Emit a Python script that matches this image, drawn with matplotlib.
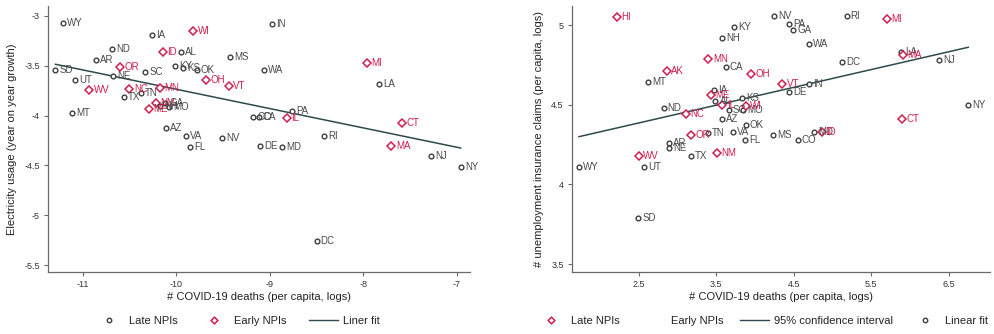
import numpy as np
import matplotlib
matplotlib.use("Agg")
import matplotlib.pyplot as plt
from matplotlib.lines import Line2D

plt.rcParams["font.family"] = ["Liberation Sans", "DejaVu Sans"]
plt.rcParams["axes.unicode_minus"] = False

# ---- Panel A: electricity usage vs COVID-19 deaths ----
elec_states = ["WY", "IA", "WI", "ND", "ID", "AL", "MS", "AR", "OR", "KY", "KS", "OK",
               "SD", "SC", "NE", "UT", "OH", "VT", "WV", "NC", "MN", "TX", "TN", "MT",
               "ME", "NM", "GA", "MO", "NH", "AZ", "VA", "NV", "FL", "IN", "WA", "MI",
               "LA", "PA", "CO", "CA", "IL", "CT", "RI", "DE", "MD", "MA", "NJ", "NY", "DC"]
elec_deaths = [-11.21, -10.26, -9.82, -10.69, -10.14, -9.95, -9.42, -10.86, -10.60, -10.01,
               -9.93, -9.78, -11.29, -10.33, -10.67, -11.08, -9.68, -9.44, -10.93, -10.50,
               -10.17, -10.56, -10.38, -11.11, -10.29, -10.22, -10.12, -10.08, -10.17,
               -10.11, -9.90, -9.51, -9.85, -8.98, -9.06, -7.96, -7.83, -8.76, -9.18,
               -9.12, -8.82, -7.59, -8.42, -9.10, -8.87, -7.70, -7.28, -6.96, -8.50]
elec_growth = [-3.07, -3.19, -3.15, -3.33, -3.36, -3.36, -3.41, -3.44, -3.51, -3.50,
               -3.52, -3.54, -3.54, -3.56, -3.60, -3.64, -3.64, -3.70, -3.74, -3.73,
               -3.72, -3.81, -3.77, -3.97, -3.93, -3.87, -3.87, -3.91, -3.90,
               -4.12, -4.20, -4.22, -4.32, -3.08, -3.54, -3.47, -3.68, -3.95, -4.01,
               -4.01, -4.02, -4.07, -4.20, -4.31, -4.32, -4.31, -4.41, -4.52, -5.26]

# ---- Panel B: unemployment insurance claims vs COVID-19 deaths ----
ui_states = ["HI", "KY", "NH", "MN", "CA", "AK", "MT", "IA", "ME", "ND", "NC", "IL",
             "AL", "KS", "SC", "MO", "AZ", "OR", "TN", "VA", "AR", "NE", "TX", "NM",
             "WV", "WY", "UT", "SD", "NV", "RI", "MI", "PA", "GA", "WA", "DC", "LA",
             "MA", "NJ", "OH", "VT", "IN", "DE", "WI", "NY", "CT", "OK", "MS", "CO",
             "FL", "MD", "ID"]
ui_deaths = [2.22, 3.73, 3.58, 3.40, 3.62, 2.86, 2.62, 3.47, 3.43, 2.82, 3.11, 3.58,
             3.49, 3.83, 3.66, 3.84, 3.57, 3.17, 3.39, 3.71, 2.89, 2.89, 3.17, 3.51,
             2.50, 1.73, 2.57, 2.49, 4.24, 5.18, 5.70, 4.44, 4.49, 4.69, 5.12, 5.88,
             5.91, 6.37, 3.95, 4.35, 4.69, 4.44, 3.88, 6.75, 5.89, 3.88, 4.23, 4.55,
             3.87, 4.76, 4.86]
ui_claims = [5.05, 4.99, 4.92, 4.79, 4.74, 4.71, 4.64, 4.59, 4.56, 4.48, 4.44, 4.50,
             4.525, 4.54, 4.47, 4.47, 4.41, 4.31, 4.32, 4.33, 4.26, 4.23, 4.18, 4.20,
             4.18, 4.11, 4.11, 3.79, 5.06, 5.06, 5.04, 5.01, 4.97, 4.88, 4.77, 4.83,
             4.81, 4.78, 4.69, 4.63, 4.63, 4.58, 4.49, 4.50, 4.41, 4.37, 4.31, 4.28,
             4.28, 4.33, 4.33]

early_npi_states = ["WI", "ID", "OR", "OH", "VT", "WV", "NC", "MN", "ME", "NM", "MI",
                    "IL", "CT", "MA", "AK", "HI"]

DARK = "#3e3e3e"
LABEL_DARK = "#4a4a4a"
RED = "#cf1f4f"
FIT = "#2f4a4c"
SPINE = "#6a6a6a"

fig = plt.figure(figsize=(9.94, 3.34), dpi=100)
ax1 = fig.add_axes([48 / 994, 1 - 272 / 334, 422 / 994, 266 / 334])
ax2 = fig.add_axes([572 / 994, 1 - 272 / 334, 418 / 994, 266 / 334])


def scatter_panel(ax, states, xs, ys):
    xs = np.asarray(xs)
    ys = np.asarray(ys)
    for s, x, y in zip(states, xs, ys):
        if s in early_npi_states:
            ax.plot(x, y, marker="D", ms=3.6, mfc="white", mec=RED, mew=1.1,
                    ls="none", zorder=3)
            ax.annotate(s, (x, y), xytext=(3.2, 0), textcoords="offset points",
                        va="center", ha="left", fontsize=7, color=RED, zorder=4)
        else:
            ax.plot(x, y, marker="o", ms=3.4, mfc="white", mec=DARK, mew=1.0,
                    ls="none", zorder=3)
            ax.annotate(s, (x, y), xytext=(3.0, 0), textcoords="offset points",
                        va="center", ha="left", fontsize=7, color=LABEL_DARK, zorder=4)
    slope, icpt = np.polyfit(xs, ys, 1)
    xl = np.array([xs.min(), xs.max()])
    ax.plot(xl, slope * xl + icpt, color=FIT, lw=1.1, zorder=2)


def style_axes(ax):
    for side in ("top", "right"):
        ax.spines[side].set_visible(False)
    for side in ("left", "bottom"):
        ax.spines[side].set_color(SPINE)
        ax.spines[side].set_linewidth(0.9)
    ax.tick_params(axis="both", length=3, width=0.8, color=SPINE,
                   labelsize=6.5, labelcolor="#333333", pad=3)


scatter_panel(ax1, elec_states, elec_deaths, elec_growth)
style_axes(ax1)
ax1.set_xlim(-11.37, -6.86)
ax1.set_ylim(-5.57, -2.9)
ax1.set_xticks([-11, -10, -9, -8, -7])
ax1.set_xticklabels(["-11", "-10", "-9", "-8", "-7"])
ax1.set_yticks([-3, -3.5, -4, -4.5, -5, -5.5])
ax1.set_yticklabels(["-3", "-3.5", "-4", "-4.5", "-5", "-5.5"])
ax1.set_xlabel("# COVID-19 deaths (per capita, logs)", fontsize=8, color="#222222",
               labelpad=2)
ax1.set_ylabel("Electricity usage (year on year growth)", fontsize=8, color="#222222",
               labelpad=5)

scatter_panel(ax2, ui_states, ui_deaths, ui_claims)
style_axes(ax2)
ax2.set_xlim(1.64, 7.03)
ax2.set_ylim(3.45, 5.12)
ax2.set_xticks([2.5, 3.5, 4.5, 5.5, 6.5])
ax2.set_xticklabels(["2.5", "3.5", "4.5", "5.5", "6.5"])
ax2.set_yticks([3.5, 4, 4.5, 5])
ax2.set_yticklabels(["3.5", "4", "4.5", "5"])
ax2.set_xlabel("# COVID-19 deaths (per capita, logs)", fontsize=8, color="#222222",
               labelpad=2)
ax2.set_ylabel("# unemployment insurance claims (per capita, logs)", fontsize=8,
               color="#222222", labelpad=5)

# legends under each panel
h_late = Line2D([], [], marker="o", ms=3.2, mfc="white", mec=DARK, mew=1.0, ls="none")
h_early = Line2D([], [], marker="D", ms=3.4, mfc="white", mec=RED, mew=1.1, ls="none")
h_fit = Line2D([], [], color=FIT, lw=1.0)
h_blank = Line2D([], [], ls="none", marker="none")

leg_kw = dict(loc="center", ncol=4, frameon=False, fontsize=8, handlelength=2.6,
              handletextpad=0.5, labelcolor="#222222")
fig.legend([h_late, h_early, h_fit], ["Late NPIs", "Early NPIs", "Liner fit"],
           bbox_to_anchor=(237 / 994, 1 - 321 / 334), columnspacing=2.0, **leg_kw)
fig.legend([h_early, h_blank, h_fit, h_late],
           ["Late NPIs", "Early NPIs", "95% confidence interval", "Linear fit"],
           bbox_to_anchor=(762 / 994, 1 - 321 / 334), columnspacing=1.5, **leg_kw)

fig.savefig("out.png", dpi=100)
